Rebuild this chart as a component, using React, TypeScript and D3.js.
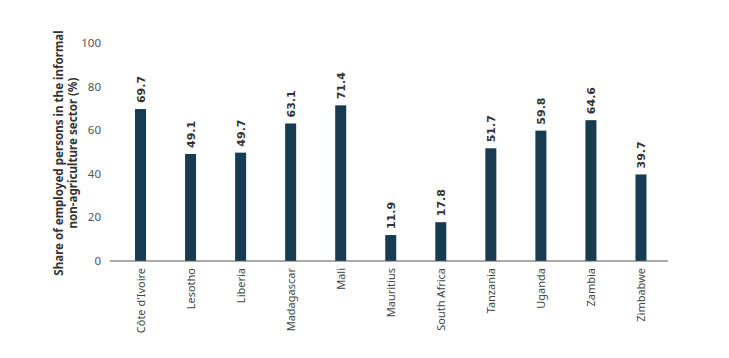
import React from 'react';
import * as d3 from 'd3';

const countries = ["Côte d'Ivoire", 'Lesotho', 'Liberia', 'Madagascar', 'Mali', 'Mauritius', 'South Africa', 'Tanzania', 'Uganda', 'Zambia', 'Zimbabwe'];
const shares = [69.7, 49.1, 49.7, 63.1, 71.4, 11.9, 17.8, 51.7, 59.8, 64.6, 39.7];
const yTicks = [0, 20, 40, 60, 80, 100];
const titleLines = ['Share of employed persons in the informal', 'non-agriculture sector (%)'];

const BAR = '#173c52';
const FONT = "'Noto Sans', sans-serif";

export default function App() {
  const width = 729;
  const height = 358;
  const axisY = 261;

  const x = d3.scaleBand<string>()
    .domain(countries)
    .range([115.5, 666])
    .paddingInner(0.78)
    .paddingOuter(0.39);

  const y = d3.scaleLinear()
    .domain([0, 100])
    .range([axisY, 43]);

  return (
    <svg width={width} height={height} style={{ position: 'absolute', left: 0, top: 0, background: '#fff' }}>
      {/* Y axis title */}
      <text
        transform={`translate(63,${153}) rotate(-90)`}
        textAnchor="middle"
        fontFamily={FONT}
        fontWeight="bold"
        fontSize={11.6}
        fill="#333"
      >
        <tspan x={0} dy={0}>{titleLines[0]}</tspan>
        <tspan x={0} dy={13.5}>{titleLines[1]}</tspan>
      </text>

      {/* Y tick labels */}
      {yTicks.map(t => (
        <text key={t} x={101} y={y(t) + 4} textAnchor="end" fontFamily={FONT} fontSize={11.5} fill="#555">
          {t}
        </text>
      ))}

      {/* Bars */}
      {countries.map((c, i) => (
        <rect key={c} x={x(c)} y={y(shares[i])} width={x.bandwidth()} height={axisY - y(shares[i])} fill={BAR} />
      ))}

      {/* Value labels */}
      {countries.map((c, i) => {
        const cx = (x(c) ?? 0) + x.bandwidth() / 2;
        const ty = y(shares[i]) - 6;
        return (
          <text
            key={c}
            transform={`translate(${cx + 4.5},${ty}) rotate(-90)`}
            fontFamily="'DejaVu Sans', sans-serif"
            fontWeight="bold"
            fontSize={11}
            fill="#333"
          >
            {shares[i].toFixed(1)}
          </text>
        );
      })}

      {/* X axis line */}
      <line x1={110} x2={668} y1={axisY} y2={axisY} stroke="#555" strokeWidth={1} />

      {/* Category labels */}
      {countries.map(c => {
        const cx = (x(c) ?? 0) + x.bandwidth() / 2;
        return (
          <text
            key={c}
            transform={`translate(${cx + 4},${axisY + 7}) rotate(-90)`}
            textAnchor="end"
            fontFamily={FONT}
            fontSize={11}
            fill="#444"
          >
            {c}
          </text>
        );
      })}
    </svg>
  );
}
